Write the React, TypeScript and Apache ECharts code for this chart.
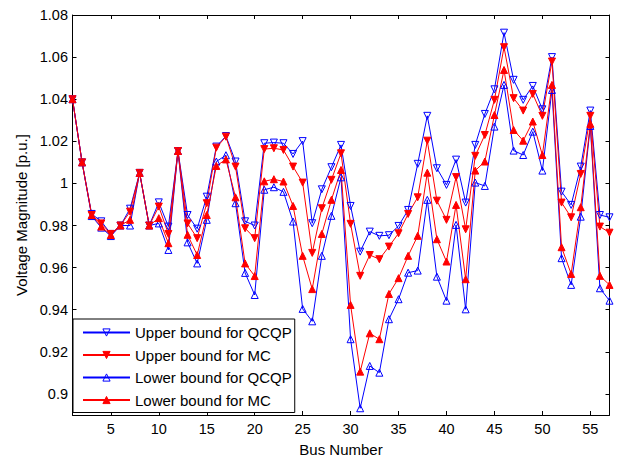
import React, { useEffect, useRef } from 'react';
import * as echarts from 'echarts';

const busNumbers = Array.from({ length: 57 }, (_, i) => i + 1);

const upperQCQP = [
  1.040, 1.010, 0.9855, 0.982, 0.976, 0.980, 0.988, 1.005, 0.980, 0.991,
  0.9795, 1.0154, 0.985, 0.9785, 0.9937, 1.0175, 1.0225, 1.0104, 0.982, 0.980,
  1.0191, 1.0194, 1.0191, 1.014, 1.0201, 0.9811, 0.9972, 1.0077, 1.0183, 0.9893,
  0.9676, 0.9771, 0.9751, 0.9754, 0.9798, 0.9874, 1.0093, 1.0321, 1.0072, 0.9993,
  1.0113, 0.9909, 1.0183, 1.033, 1.0447, 1.0716, 1.0492, 1.0397, 1.0463, 1.0352,
  1.060, 0.9961, 0.9898, 1.008, 1.0346, 0.985, 0.9839,
];

const upperMC = [
  1.040, 1.010, 0.985, 0.981, 0.976, 0.980, 0.9866, 1.005, 0.980, 0.989,
  0.976, 1.0154, 0.981, 0.974, 0.9906, 1.017, 1.0222, 1.008, 0.9787, 0.974,
  1.0163, 1.0167, 1.0159, 1.008, 1.0004, 0.967, 0.9882, 1.0017, 1.0143, 0.9808,
  0.9561, 0.966, 0.964, 0.970, 0.9763, 0.9855, 0.9934, 1.0203, 0.9918, 0.9827,
  1.003, 0.9782, 1.0131, 1.023, 1.0397, 1.0647, 1.0405, 1.0346, 1.0425, 1.0321,
  1.0579, 0.9909, 0.9839, 1.0045, 1.0321, 0.9795, 0.9766,
];

const lowerQCQP = [
  1.040, 1.010, 0.9845, 0.979, 0.975, 0.980, 0.980, 1.005, 0.980, 0.981,
  0.9684, 1.0154, 0.972, 0.962, 0.9827, 1.0104, 1.0134, 0.9906, 0.9575, 0.947,
  0.997, 0.9982, 0.996, 0.9819, 0.9404, 0.9345, 0.9656, 0.9846, 1.0029, 0.926,
  0.8932, 0.9133, 0.9101, 0.9355, 0.945, 0.9576, 0.9586, 0.9922, 0.9557, 0.9443,
  0.9803, 0.9402, 1.0004, 0.9988, 1.027, 1.0468, 1.0156, 1.0135, 1.0246, 1.0061,
  1.0444, 0.9645, 0.9518, 0.9842, 1.0273, 0.9502, 0.9443,
];

const lowerMC = [
  1.040, 1.010, 0.985, 0.9795, 0.9755, 0.980, 0.9827, 1.005, 0.980, 0.9835,
  0.9716, 1.0154, 0.9756, 0.966, 0.985, 1.0083, 1.0114, 0.9934, 0.962, 0.956,
  1.001, 1.002, 1.0009, 0.9893, 0.9656, 0.9498, 0.976, 0.9922, 1.0064, 0.9423,
  0.9106, 0.9288, 0.926, 0.9475, 0.955, 0.9656, 0.9751, 1.0051, 0.9735, 0.9629,
  0.9898, 0.9545, 1.0061, 1.0104, 1.0325, 1.0539, 1.0254, 1.0203, 1.0294, 1.0135,
  1.0468, 0.9697, 0.957, 0.9887, 1.0283, 0.9561, 0.9518,
];

const xTicks = [5, 10, 15, 20, 25, 30, 35, 40, 45, 50, 55];
const yTicks = [0.9, 0.92, 0.94, 0.96, 0.98, 1.0, 1.02, 1.04, 1.06, 1.08];

const FONT = "'Liberation Sans', Arial, sans-serif";
const BLUE = '#0000ff';
const RED = '#ff0000';

function makeSeries(name: string, values: number[], color: string, down: boolean, filled: boolean) {
  return {
    name,
    type: 'line',
    data: busNumbers.map((b, i) => [b, values[i]]),
    symbol: 'triangle',
    symbolRotate: down ? 180 : 0,
    symbolSize: 7,
    showAllSymbol: true,
    lineStyle: { color, width: 1 },
    itemStyle: {
      color: filled ? color : 'rgba(255,255,255,0)',
      borderColor: color,
      borderWidth: 1,
    },
    emphasis: { disabled: true },
  };
}

export default function App() {
  const ref = useRef<HTMLDivElement>(null);

  useEffect(() => {
    if (!ref.current) return;
    const chart = echarts.init(ref.current, null, { renderer: 'svg' });
    const axisLine = { show: true, lineStyle: { color: '#000', width: 1 } };
    const tickStyle = { color: '#000', width: 1 };
    const labelStyle = { color: '#000', fontSize: 14.5, fontFamily: FONT };
    const nameStyle = { color: '#000', fontSize: 15, fontFamily: FONT };
    const fmt = (v: number) => String(+Number(v).toFixed(2));

    chart.setOption({
      animation: false,
      backgroundColor: '#fff',
      grid: { left: 72.5, right: 13.5, top: 15, bottom: 42, containLabel: false, outerBoundsMode: 'none' },
      legend: {
        orient: 'vertical',
        left: 73,
        top: 319,
        itemWidth: 47,
        itemHeight: 9,
        itemGap: 7.5,
        padding: [6, 3, 5, 9],
        backgroundColor: '#fff',
        borderColor: '#000',
        borderWidth: 1,
        borderRadius: 0,
        textStyle: { fontSize: 15, color: '#000', fontFamily: FONT },
        itemStyle: { borderWidth: 1 },
        selectedMode: false,
        data: ['Upper bound for QCQP', 'Upper bound for MC', 'Lower bound for QCQP', 'Lower bound for MC'],
      },
      xAxis: [
        {
          type: 'value',
          min: 1,
          max: 57,
          position: 'bottom',
          axisLine,
          axisTick: { show: true, inside: true, length: 4, customValues: xTicks, lineStyle: tickStyle },
          axisLabel: { show: true, customValues: xTicks, margin: 6, ...labelStyle, formatter: fmt },
          splitLine: { show: false },
          name: 'Bus Number',
          nameLocation: 'middle',
          nameGap: 27,
          nameTextStyle: nameStyle,
        },
        {
          type: 'value',
          min: 1,
          max: 57,
          position: 'top',
          axisLine,
          axisTick: { show: true, inside: true, length: 4, customValues: xTicks, lineStyle: tickStyle },
          axisLabel: { show: false },
          splitLine: { show: false },
        },
      ],
      yAxis: [
        {
          type: 'value',
          min: 0.89,
          max: 1.08,
          position: 'left',
          axisLine,
          axisTick: { show: true, inside: true, length: 4, customValues: yTicks, lineStyle: tickStyle },
          axisLabel: { show: true, customValues: yTicks, margin: 4.5, ...labelStyle, formatter: fmt },
          splitLine: { show: false },
          name: 'Voltage Magnitude [p.u.]',
          nameLocation: 'middle',
          nameGap: 44,
          nameTextStyle: nameStyle,
        },
        {
          type: 'value',
          min: 0.89,
          max: 1.08,
          position: 'right',
          axisLine,
          axisTick: { show: true, inside: true, length: 4, customValues: yTicks, lineStyle: tickStyle },
          axisLabel: { show: false },
          splitLine: { show: false },
        },
      ],
      series: [
        makeSeries('Upper bound for QCQP', upperQCQP, BLUE, true, false),
        makeSeries('Upper bound for MC', upperMC, RED, true, true),
        makeSeries('Lower bound for QCQP', lowerQCQP, BLUE, false, false),
        makeSeries('Lower bound for MC', lowerMC, RED, false, true),
      ],
    });
    return () => chart.dispose();
  }, []);

  return (
    <div
      ref={ref}
      style={{ position: 'fixed', left: 0, top: 0, width: 623, height: 457, background: '#fff' }}
    />
  );
}
